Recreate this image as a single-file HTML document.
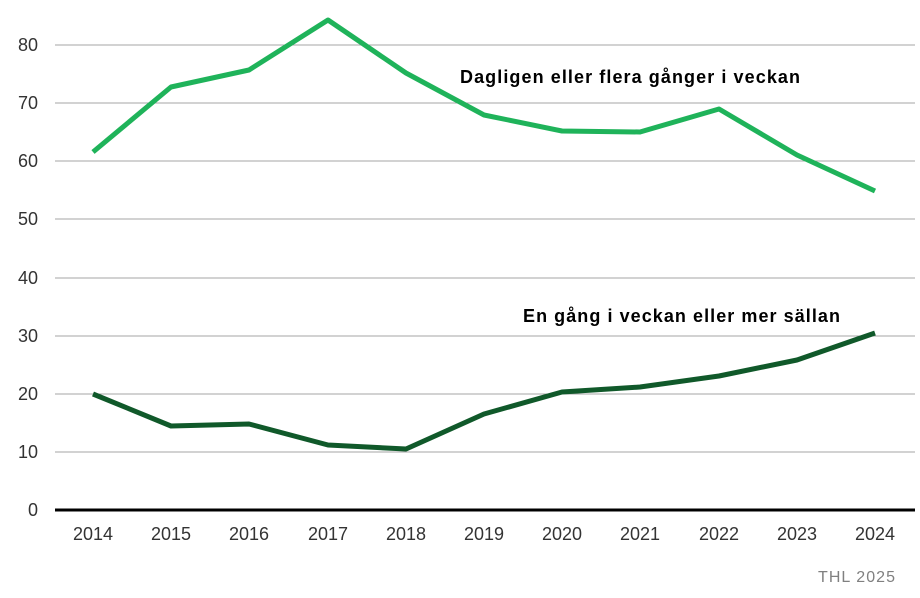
<!DOCTYPE html>
<html><head><meta charset="utf-8"><style>
body{margin:0;background:#fff;}
svg text{font-family:"Liberation Sans",Arial,sans-serif;}
</style></head><body>
<svg width="920" height="593" xmlns="http://www.w3.org/2000/svg">
<g stroke="#a6a6a6" stroke-width="1">
<line x1="55" x2="915" y1="45" y2="45"/><line x1="55" x2="915" y1="103" y2="103"/>
<line x1="55" x2="915" y1="161" y2="161"/><line x1="55" x2="915" y1="219" y2="219"/>
<line x1="55" x2="915" y1="278" y2="278"/><line x1="55" x2="915" y1="336" y2="336"/>
<line x1="55" x2="915" y1="394" y2="394"/><line x1="55" x2="915" y1="452" y2="452"/>
</g>
<line x1="55" x2="915" y1="510" y2="510" stroke="#000" stroke-width="3"/>
<g font-size="18" fill="#333" text-anchor="end">
<text x="38" y="51">80</text><text x="38" y="109">70</text><text x="38" y="167">60</text>
<text x="38" y="225">50</text><text x="38" y="284">40</text><text x="38" y="342">30</text>
<text x="38" y="400">20</text><text x="38" y="458">10</text><text x="38" y="516">0</text>
</g>
<g font-size="18" fill="#333" text-anchor="middle">
<text x="93" y="540">2014</text><text x="171" y="540">2015</text><text x="249" y="540">2016</text>
<text x="328" y="540">2017</text><text x="406" y="540">2018</text><text x="484" y="540">2019</text>
<text x="562" y="540">2020</text><text x="640" y="540">2021</text><text x="719" y="540">2022</text>
<text x="797" y="540">2023</text><text x="875" y="540">2024</text>
</g>
<polyline fill="none" stroke="#1fb35a" stroke-width="5" stroke-linejoin="round" points="93,152 171,87 249,70 328,20 406,73 484,115 562,131 640,132 719,109 797,155 875,191"/>
<polyline fill="none" stroke="#10592a" stroke-width="5" stroke-linejoin="round" points="93,394 171,426 249,424 328,445 406,449 484,414 562,392 640,387 719,376 797,360 875,333"/>
<text x="460" y="83" font-size="18" font-weight="bold" fill="#000" textLength="340" lengthAdjust="spacing">Dagligen eller flera gånger i veckan</text>
<text x="523" y="322" font-size="18" font-weight="bold" fill="#000" textLength="317" lengthAdjust="spacing">En gång i veckan eller mer sällan</text>
<text x="818" y="582" font-size="16" fill="#808080" textLength="77" lengthAdjust="spacing">THL 2025</text>
</svg>
</body></html>
